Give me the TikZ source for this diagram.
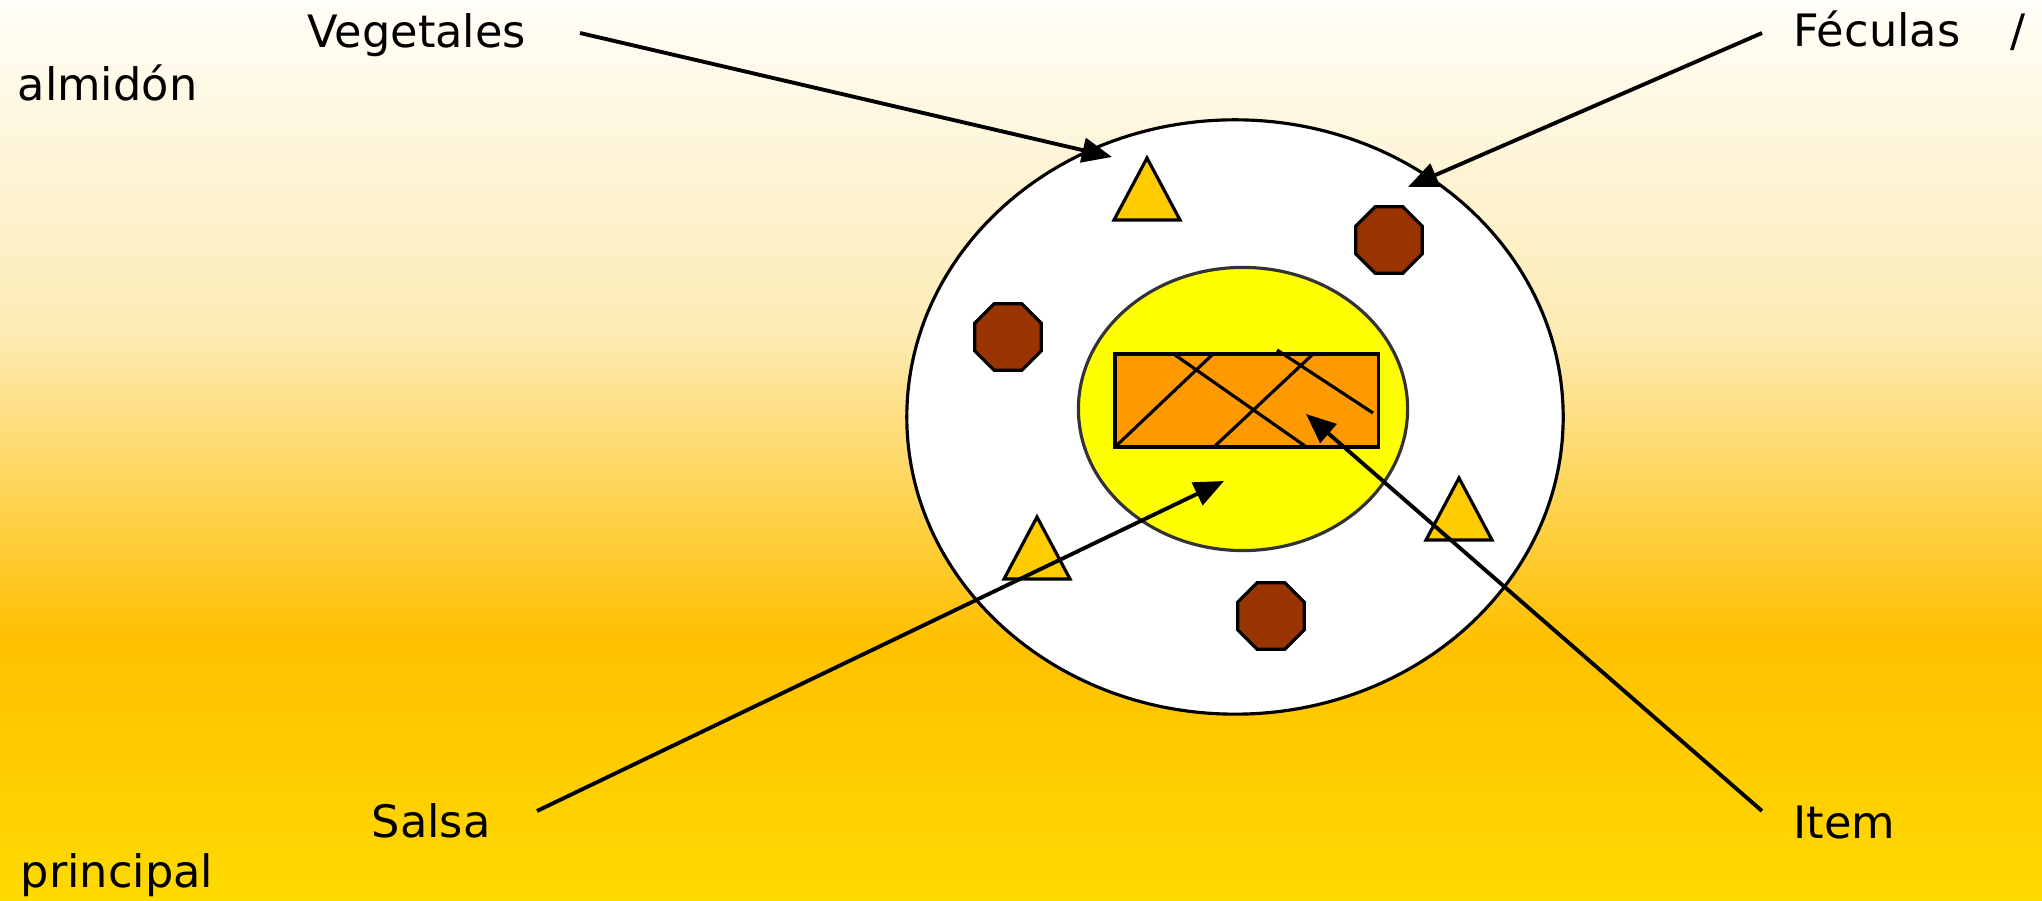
\documentclass[tikz,border=0pt]{standalone}
\usepackage{fontspec}
\setmainfont{DejaVu Sans}
\usepackage{xcolor}
\usetikzlibrary{arrows.meta,shapes.geometric}
\definecolor{meatorange}{RGB}{255,153,0}
\definecolor{sauceyellow}{RGB}{255,255,0}
\definecolor{vegyellow}{RGB}{255,204,0}
\definecolor{starchbrown}{RGB}{153,51,0}
\definecolor{rimgray}{RGB}{51,51,51}
\definecolor{bgtop}{RGB}{255,254,248}
\definecolor{bgpale}{RGB}{253,235,181}
\definecolor{bggold}{RGB}{255,192,0}
\definecolor{bgbottom}{RGB}{255,218,0}
\pgfdeclareverticalshading{trayshade}{100bp}{color(0bp)=(bgbottom); color(25bp)=(bgbottom); color(39.5bp)=(bggold); color(56.7bp)=(bgpale); color(75bp)=(bgtop); color(100bp)=(bgtop)}

\begin{document}
\begin{tikzpicture}[
    x=0.01cm, y=-0.01cm,
    plate/.style={ellipse, draw, line width=0.9pt, fill=white, inner sep=0, minimum width=6.56cm, minimum height=5.94cm},
    sauce/.style={ellipse, draw=rimgray, line width=0.9pt, fill=sauceyellow, inner sep=0, minimum width=3.29cm, minimum height=2.83cm},
    meat/.style={rectangle, draw, line width=0.9pt, fill=meatorange, inner sep=0, minimum width=2.63cm, minimum height=0.93cm},
    veg/.style={isosceles triangle, isosceles triangle stretches, shape border rotate=90, draw, line width=0.9pt, fill=vegyellow, inner sep=0, outer sep=0, minimum width=0.66cm, minimum height=0.62cm, anchor=apex},
    starch/.style={regular polygon, regular polygon sides=8, draw, line width=0.9pt, fill=starchbrown, inner sep=0, minimum size=0.72cm},
    tag/.style={anchor=base west, inner sep=0, font=\fontsize{12.7pt}{15pt}\selectfont},
    arrow/.style={-{Triangle[length=8.5pt, width=7pt]}, line width=1.1pt},
    cut/.style={line width=0.9pt}
]
    % Background
    \shade[shading=trayshade] (0,0) rectangle (2042,901);
    \useasboundingbox (0,0) rectangle (2042,901);

    % Plate
    \node[plate] (plate) at (1235,417) {};
    \node[sauce] (sauce) at (1243,409) {};
    \node[meat] (meat) at (1246.5,400.5) {};
    \foreach \xa/\ya/\xb/\yb in {1115/447/1212/355, 1175/355/1305/446, 1215/446/1312/355, 1277/350/1373/413}
        \draw[cut] (\xa,\ya) -- (\xb,\yb);

    % Side dishes
    \node[veg] (veg1) at (1147,158) {};
    \node[veg] (veg2) at (1037,517) {};
    \node[veg] (veg3) at (1459,478) {};
    \node[starch] (starch1) at (1008,337) {};
    \node[starch] (starch2) at (1389,240) {};
    \node[starch] (starch3) at (1271,616) {};

    % Labels
    \node[tag] (vegetales) at (307,48) {Vegetales};
    \node[tag] (feculas) at (1793,47) {Féculas};
    \node[tag] (slash) at (2010,47) {/};
    \node[tag] (almidon) at (17,101) {almidón};
    \node[tag] (salsa) at (371,838) {Salsa};
    \node[tag] (principal) at (20,888) {principal};
    \node[tag] (itemtag) at (1793,839) {Item};

    % Arrows
    \coordinate (vegfrom) at (580,33);
    \coordinate (vegto) at (1112,157);
    \coordinate (fecfrom) at (1762,33);
    \coordinate (fecto) at (1408,187);
    \coordinate (salfrom) at (537,811);
    \coordinate (salto) at (1224,481);
    \coordinate (itemfrom) at (1762,811);
    \coordinate (itemto) at (1306,414);
    \draw[arrow] (vegfrom) -- (vegto);
    \draw[arrow] (fecfrom) -- (fecto);
    \draw[arrow] (salfrom) -- (salto);
    \draw[arrow] (itemfrom) -- (itemto);
\end{tikzpicture}
\end{document}
